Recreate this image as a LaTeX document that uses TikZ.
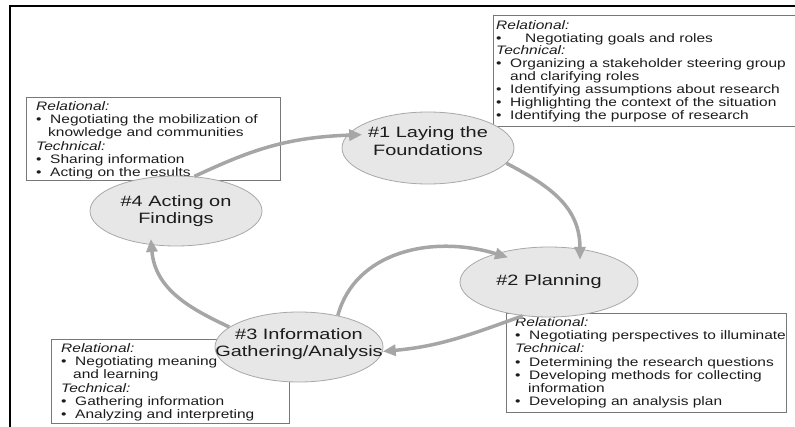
\documentclass[tikz,border=0pt]{standalone}
\usepackage{fontspec}
\setmainfont[FakeStretch=1.26]{Liberation Sans}
\newfontfamily\stagefont[FakeStretch=1.33]{Liberation Sans}
\usetikzlibrary{
    arrows.meta,
    shapes.geometric,
    positioning
}
\definecolor{arrowgray}{RGB}{166,166,166}
\definecolor{stagefill}{RGB}{231,231,231}
\definecolor{stageline}{RGB}{168,168,168}
\definecolor{boxline}{RGB}{120,120,120}
\definecolor{ink}{RGB}{28,28,28}
\tikzset{stage/.style={ellipse, draw=stageline, fill=stagefill, line width=0.8pt, minimum height=70pt, inner sep=0pt}}
\tikzset{stagelbl/.style={align=center, text=ink, inner sep=0pt, font=\stagefont\fontsize{15}{17.5}\selectfont}}
\tikzset{notebox/.style={draw=boxline, line width=1.1pt, anchor=north west, inner sep=0pt}}
\tikzset{notetxt/.style={align=left, text=ink, inner sep=0pt, font=\fontsize{12.3}{13.3}\selectfont}}
\tikzset{flow/.style={draw=arrowgray, line width=3.5pt, -{Triangle[length=13pt,width=11pt]}}}
\newcommand{\bitem}[1][14pt]{\makebox[#1][l]{\textbullet}}

\begin{document}
\begin{tikzpicture}[x=1pt, y=-1pt]
    \useasboundingbox (0,0) rectangle (795,427);
    \draw[line width=2pt] (10,427) |- (795,6);

    \node[notebox, minimum width=310pt, minimum height=111pt] (laybox) at (493,15) {};
    \node[notebox, minimum width=254pt, minimum height=83pt] (actbox) at (26,97) {};
    \node[notebox, minimum width=238pt, minimum height=84pt] (infobox) at (51,339) {};
    \node[notebox, minimum width=280pt, minimum height=99pt] (planbox) at (506,313) {};

    \node[notetxt, below right=5pt and 3pt of laybox.north west, font=\fontsize{12.3}{12.9}\selectfont] (laytxt) {%
        \textit{Relational:}\\
        \bitem[29pt]Negotiating goals and roles\\
        \textit{Technical:}\\
        \bitem Organizing a stakeholder steering group\\
        \hspace*{14pt}and clarifying roles\\
        \bitem Identifying assumptions about research\\
        \bitem Highlighting the context of the situation\\
        \bitem Identifying the purpose of research};
    \node[notetxt, below right=4pt and 10pt of actbox.north west] (acttxt) {%
        \textit{Relational:}\\
        \bitem Negotiating the mobilization of\\
        \hspace*{12pt}knowledge and communities\\
        \textit{Technical:}\\
        \bitem Sharing information\\
        \bitem Acting on the results};
    \node[notetxt, below right=4pt and 10pt of infobox.north west] (infotxt) {%
        \textit{Relational:}\\
        \bitem Negotiating meaning\\
        \hspace*{12pt}and learning\\
        \textit{Technical:}\\
        \bitem Gathering information\\
        \bitem Analyzing and interpreting};
    \node[notetxt, below right=4pt and 9pt of planbox.north west] (plantxt) {%
        \textit{Relational:}\\
        \bitem Negotiating perspectives to illuminate\\
        \textit{Technical:}\\
        \bitem Determining the research questions\\
        \bitem Developing methods for collecting\\
        \hspace*{13pt}information\\
        \bitem Developing an analysis plan};

    \node[stage, minimum width=172pt, minimum height=72pt,
        label={[stagelbl, yshift=7pt]center:{\#1 Laying the\\Foundations}}] (lay) at (428,148) {};
    \node[stage, minimum width=178pt,
        label={[stagelbl]center:{\#2 Planning}}] (plan) at (549,282) {};
    \node[stage, minimum width=168pt,
        label={[stagelbl, yshift=3pt]center:{\#3 Information\\Gathering/Analysis}}] (info) at (299,347) {};
    \node[stage, minimum width=172pt,
        label={[stagelbl]center:{\#4 Acting on\\Findings}}] (act) at (176,211) {};

    \draw[flow, shorten >=-11pt] (lay.-11) to[out=-28, in=90] (plan.47);
    \draw[flow] (plan.232) to[out=200, in=5] (info.-3);
    \draw[flow, shorten >=-13pt] (info.39) to[out=75, in=163] (plan.152);
    \draw[flow, shorten >=-6pt] (info.164) to[out=155, in=-85] (act.234);
    \draw[flow, shorten >=-15pt] (act.62) to[out=25, in=182] (lay.171);
\end{tikzpicture}
\end{document}
